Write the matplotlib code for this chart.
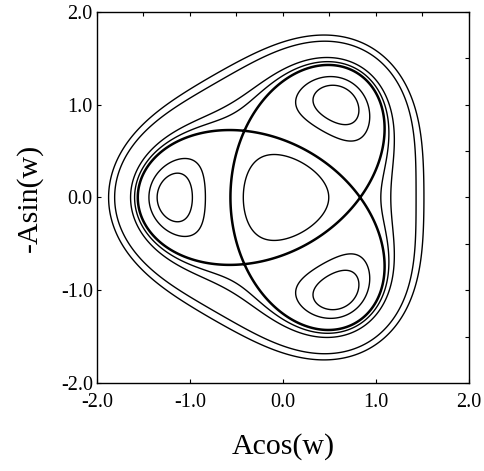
import numpy as np
import matplotlib
matplotlib.use("Agg")
import matplotlib.pyplot as plt
from matplotlib.ticker import FormatStrFormatter, MultipleLocator

# Hamiltonian H = a*A^2 + b*A^4 + c*A^3*cos(3w), read off from the fixed points
# (hyperbolic at A~0.83, elliptic islands at A~1.18)
coef_a = -1.9588
coef_b = 1.0
coef_c = 0.4667
r_hyp = 0.83

center_levels = [-0.36]
island_levels = [-1.39, -1.15]
outer_levels = [-0.4, -0.1, 1.55, 2.4]

x_ticks = [-2.0, -1.0, 0.0, 1.0, 2.0]
y_ticks = [-2.0, -1.0, 0.0, 1.0, 2.0]

plt.rcParams['font.family'] = ['Liberation Serif', 'DejaVu Serif']
plt.rcParams['axes.unicode_minus'] = False
plt.rcParams['contour.negative_linestyle'] = 'solid'


def ham(r, th):
    return coef_a * r**2 + coef_b * r**4 + coef_c * r**3 * np.cos(3 * th)


def main():
    g = np.linspace(-2.0, 2.0, 801)
    X, Y = np.meshgrid(g, g)
    R = np.hypot(X, Y)
    TH = np.arctan2(Y, X)
    H = ham(R, TH)
    sep_level = ham(r_hyp, 0.0)

    fig = plt.figure(figsize=(4.85, 4.71), dpi=100)
    ax = fig.add_axes([0.2, 0.187, 0.767, 0.7875])

    # inner orbit around the centre (only inside the triangle)
    ax.contour(X, Y, np.ma.masked_where(R > 0.8, H), levels=center_levels,
               colors='black', linewidths=1.0, linestyles='solid')
    # islands
    ax.contour(X, Y, H, levels=island_levels, colors='black', linewidths=1.0,
               linestyles='solid')
    # orbits outside the separatrix
    ax.contour(X, Y, np.ma.masked_where(R < 0.95, H), levels=outer_levels,
               colors='black', linewidths=1.0, linestyles='solid')
    # separatrix
    ax.contour(X, Y, H, levels=[sep_level], colors='black', linewidths=1.8,
               linestyles='solid')

    ax.set_xlim(-2, 2)
    ax.set_ylim(-2, 2)
    ax.set_xticks(x_ticks)
    ax.set_yticks(y_ticks)
    ax.xaxis.set_minor_locator(MultipleLocator(0.5))
    ax.yaxis.set_minor_locator(MultipleLocator(0.5))
    ax.xaxis.set_major_formatter(FormatStrFormatter('%.1f'))
    ax.yaxis.set_major_formatter(FormatStrFormatter('%.1f'))
    ax.tick_params(which='major', direction='in', length=3, width=0.8,
                   top=True, right=True, labelsize=14.5)
    ax.tick_params(axis='x', which='major', pad=7)
    ax.tick_params(axis='y', which='major', pad=3)
    ax.tick_params(which='minor', direction='in', length=3, width=0.8,
                   top=True, right=True, bottom=False, left=False)
    for s in ax.spines.values():
        s.set_linewidth(1.0)

    ax.set_xlabel('Acos(w)', fontsize=21.5)
    ax.set_ylabel('-Asin(w)', fontsize=21.5)
    ax.xaxis.set_label_coords(0.5, -0.135)
    ax.yaxis.set_label_coords(-0.145, 0.5)

    fig.savefig('out.png', dpi=100)


if __name__ == "__main__":
    main()
